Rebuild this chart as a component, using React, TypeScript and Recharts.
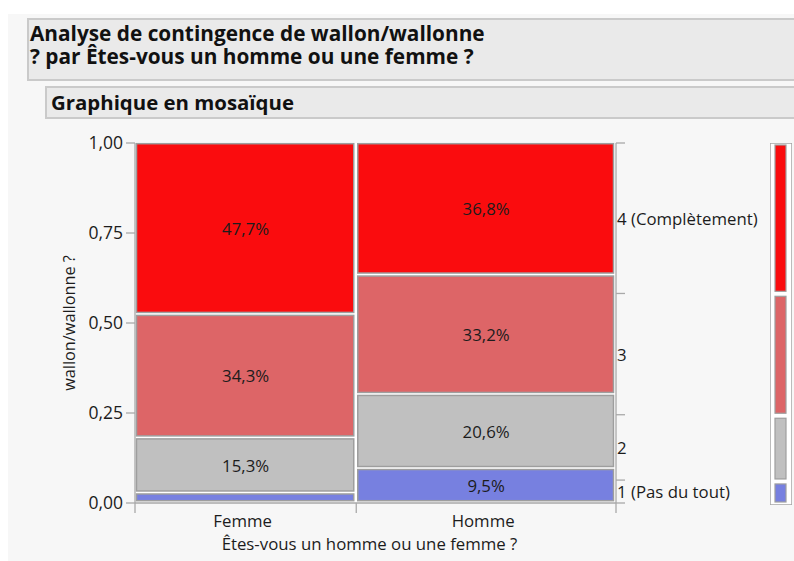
import React from 'react';
import { ComposedChart, XAxis, YAxis, ReferenceArea, Label } from 'recharts';

const groups = ['Femme', 'Homme'];
const groupShare = [0.46, 0.54];
const levels = ['1 (Pas du tout)', '2', '3', '4 (Complètement)'];
const femmePct = [2.7, 15.3, 34.3, 47.7];
const hommePct = [9.5, 20.6, 33.2, 36.8];
const levelColors = ['#7780e0', '#c0c0c0', '#dd6567', '#fa0c0e'];
const yTicks = [0, 0.25, 0.5, 0.75, 1];

const FONT = "'Open Sans', 'Noto Sans', sans-serif";
const TEXT = '#1c1c1c';
const AXIS = '#a9a9a9';
const CELL_STROKE = '#9e9e9e';
const FS = 16.8;

const groupPcts = [femmePct, hommePct];

type Cell = { key: string; x1: number; x2: number; y1: number; y2: number; pct: number; color: string };
const cells: Cell[] = [];
const xBounds: number[] = [0];
const xMids: number[] = [];
{
  let x0 = 0;
  groups.forEach((g, gi) => {
    const x1 = x0 + groupShare[gi];
    const total = groupPcts[gi].reduce((a, b) => a + b, 0);
    let y0 = 0;
    groupPcts[gi].forEach((p, li) => {
      const y1 = y0 + p / total;
      cells.push({ key: g + li, x1: x0, x2: x1, y1: y0, y2: y1, pct: p, color: levelColors[li] });
      y0 = y1;
    });
    xMids.push((x0 + x1) / 2);
    xBounds.push(x1);
    x0 = x1;
  });
}

const marginal = levels.map((_, li) =>
  groups.reduce((s, _g, gi) => {
    const total = groupPcts[gi].reduce((a, b) => a + b, 0);
    return s + groupShare[gi] * groupPcts[gi][li] / total;
  }, 0)
);
const yBounds: number[] = [0];
const yMids: number[] = [];
{
  let c = 0;
  marginal.forEach((m) => {
    yMids.push(c + m / 2);
    c += m;
    yBounds.push(c);
  });
}

const xTicks = [...xBounds, ...xMids].sort((a, b) => a - b);
const yRightTicks = [...yBounds, ...yMids].sort((a, b) => a - b);

const fmtPct = (p: number) => p.toFixed(1).replace('.', ',') + '%';
const fmtAxis = (v: number) => v.toFixed(2).replace('.', ',');

const near = (a: number, b: number) => Math.abs(a - b) < 1e-9;

const XTick = (props: any) => {
  const { x, y, payload } = props;
  const mi = xMids.findIndex((m) => near(m, payload.value));
  if (mi >= 0) {
    return (
      <text x={x - 3} y={y + 17} textAnchor="middle" dominantBaseline="central" fill={TEXT} fontSize={FS} fontFamily={FONT}>
        {groups[mi]}
      </text>
    );
  }
  return <line x1={x} y1={y} x2={x} y2={y + 10} stroke={AXIS} strokeWidth={1.3} />;
};

const YRightTick = (props: any) => {
  const { x, y, payload } = props;
  const mi = yMids.findIndex((m) => near(m, payload.value));
  if (mi >= 0) {
    return (
      <text x={x + 1} y={y} textAnchor="start" dominantBaseline="central" fill={TEXT} fontSize={FS} fontFamily={FONT}>
        {levels[mi]}
      </text>
    );
  }
  return <line x1={x} y1={y} x2={x + 9} y2={y} stroke={AXIS} strokeWidth={1.3} />;
};

const CellShape = (props: any) => {
  const { x, y, width, height, fill } = props;
  return (
    <rect
      x={x + 1.5}
      y={y + 0.7}
      width={Math.max(width - 4, 0)}
      height={Math.max(height - 3, 0)}
      fill={fill}
      stroke={CELL_STROKE}
      strokeWidth={1.5}
    />
  );
};

const LegendCell = (props: any) => {
  const { x, y, width, height, fill } = props;
  return (
    <rect
      x={x + 5}
      y={y + 2}
      width={Math.max(width - 11, 0)}
      height={Math.max(height - 5, 0)}
      fill={fill}
      stroke={CELL_STROKE}
      strokeWidth={1.2}
    />
  );
};

export default function App() {
  return (
    <div style={{ position: 'absolute', left: 0, top: 0, width: 794, height: 561, background: '#fff', overflow: 'hidden', fontFamily: FONT }}>
      <div style={{ position: 'absolute', left: 8, top: 14, width: 800, height: 560, background: '#f7f7f7' }} />
      <div
        style={{
          position: 'absolute', left: 27, top: 18, width: 800, height: 59, background: '#eaeaea',
          border: '2px solid #cacaca', boxSizing: 'content-box',
        }}
      />
      <div style={{ position: 'absolute', left: 30, top: 22, fontWeight: 700, fontSize: 20.8, lineHeight: '22px', color: '#111', whiteSpace: 'nowrap' }}>
        Analyse de contingence de wallon/wallonne
      </div>
      <div style={{ position: 'absolute', left: 30, top: 44.5, fontWeight: 700, fontSize: 20.8, lineHeight: '22px', color: '#111', whiteSpace: 'nowrap' }}>
        ? par Êtes-vous un homme ou une femme ?
      </div>
      <div
        style={{
          position: 'absolute', left: 45, top: 86, width: 800, height: 29, background: '#eaeaea',
          border: '2px solid #cacaca', boxSizing: 'content-box',
        }}
      />
      <div style={{ position: 'absolute', left: 51, top: 89, fontWeight: 700, fontSize: 20.4, lineHeight: '26px', color: '#111', whiteSpace: 'nowrap' }}>
        Graphique en mosaïque
      </div>

      <div style={{ position: 'absolute', left: 0, top: 0 }}>
        <ComposedChart width={794} height={561} data={cells} margin={{ top: 143, right: 28, bottom: 11, left: 55 }}>
          <XAxis
            dataKey="x1"
            type="number"
            domain={[0, 1]}
            ticks={xTicks}
            interval={0}
            tickSize={0}
            tickMargin={0}
            tick={<XTick />}
            stroke={AXIS}
            axisLine={{ stroke: AXIS, strokeWidth: 1.3 }}
            height={47}
            allowDataOverflow
          >
            <Label
              value="Êtes-vous un homme ou une femme ?"
              position="insideBottom"
              offset={0}
              dx={-6}
              fill={TEXT}
              fontSize={FS}
              fontFamily={FONT}
            />
          </XAxis>
          <YAxis
            yAxisId="left"
            type="number"
            domain={[0, 1]}
            ticks={yTicks}
            interval={0}
            tickFormatter={fmtAxis}
            tickSize={9}
            tickMargin={3}
            width={80}
            tick={{ fill: TEXT, fontSize: 17.5, fontFamily: FONT }}
            tickLine={{ stroke: AXIS, strokeWidth: 1.3 }}
            axisLine={{ stroke: AXIS, strokeWidth: 1.3 }}
            allowDataOverflow
          >
            <Label
              value="wallon/wallonne ?"
              angle={-90}
              position="insideLeft"
              offset={14}
              style={{ textAnchor: 'middle' }}
              fill={TEXT}
              fontSize={16.3}
              fontFamily={FONT}
            />
          </YAxis>
          <YAxis
            yAxisId="right"
            orientation="right"
            type="number"
            domain={[0, 1]}
            ticks={yRightTicks}
            interval={0}
            tickSize={0}
            tickMargin={0}
            width={150}
            tick={<YRightTick />}
            axisLine={{ stroke: AXIS, strokeWidth: 1.3 }}
            allowDataOverflow
          />
          <ReferenceArea yAxisId="left" x1={0} x2={1} y1={0} y2={1} fill="#ffffff" fillOpacity={1} stroke="none" ifOverflow="visible" />
          {cells.map((c) => (
            <ReferenceArea
              key={c.key}
              yAxisId="left"
              x1={c.x1}
              x2={c.x2}
              y1={c.y1}
              y2={c.y2}
              fill={c.color}
              fillOpacity={1}
              ifOverflow="visible"
              shape={<CellShape />}
              label={
                c.pct >= 5 ? (
                  <Label value={fmtPct(c.pct)} position="center" fill={TEXT} fontSize={FS} fontFamily={FONT} />
                ) : undefined
              }
            />
          ))}
        </ComposedChart>
      </div>

      <div style={{ position: 'absolute', left: 770, top: 143 }}>
        <ComposedChart width={22} height={362} data={cells} margin={{ top: 0, right: 0, bottom: 0, left: 0 }}>
          <XAxis type="number" dataKey="x1" domain={[0, 1]} hide allowDataOverflow />
          <YAxis type="number" domain={[0, 1]} hide allowDataOverflow />
          <ReferenceArea x1={0} x2={1} y1={0} y2={1} fill="#ffffff" fillOpacity={1} stroke="#a5a5a5" strokeWidth={1.5} ifOverflow="visible" />
          {marginal.map((m, li) => (
            <ReferenceArea
              key={'lg' + li}
              x1={0}
              x2={1}
              y1={yBounds[li]}
              y2={yBounds[li + 1]}
              fill={levelColors[li]}
              fillOpacity={1}
              ifOverflow="visible"
              shape={<LegendCell />}
            />
          ))}
        </ComposedChart>
      </div>
    </div>
  );
}
